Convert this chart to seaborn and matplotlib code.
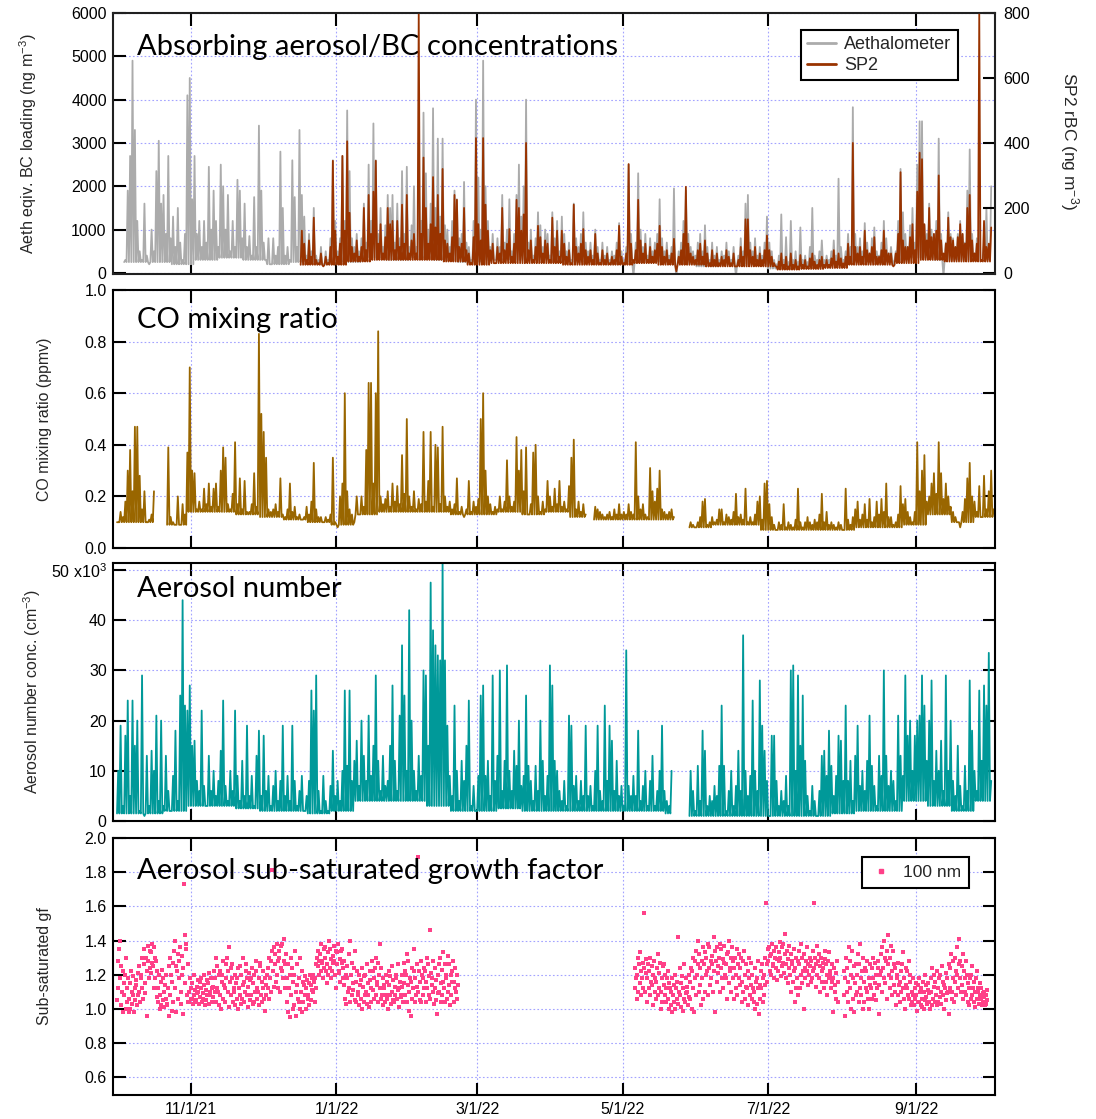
import numpy as np
import pandas as pd
import matplotlib
matplotlib.use("Agg")
import matplotlib.pyplot as plt
import matplotlib.dates as mdates
from matplotlib.lines import Line2D
import seaborn as sns

nan = np.nan
T0 = pd.Timestamp("2021-10-01")

# ---------------- data ----------------
# Each line series: one daily value (peak of the day) plus a lower envelope
# given per 10-day block.
BLOCK_DAYS = 10

# Aethalometer equivalent BC (ng m-3), from day 3
aeth_start_day = 3
aeth_bc = [
    300, 1900, 2700, 4900, 3300, 1200, 500, 300, 1600, 400,
    200, 1000, 500, 2350, 3050, 1600, 1800, 900, 2700, 800,
    1300, 600, 1500, 700, 300, 900, 4100, 4500, 1700, 2700,
    900, 1200, 600, 1200, 700, 2450, 1000, 1900, 1200, 600,
    2500, 2000, 1000, 1800, 500, 1200, 600, 2150, 1900, 800,
    1600, 600, 850, 400, 1750, 600, 3400, 1900, 700, 300,
    800, 200, 800, 400, 600, 2800, 1500, 400, 600, 300,
    2600, 1750, 600, 3300, 1800, 1300, 400, 900, 500, 1500,
    400, 300, 600, 200, 500, 300, 800, 2600, 1200, 500,
    800, 2700, 1200, 3750, 2350, 800, 600, 900, 500, 800,
    1600, 700, 2500, 1200, 3450, 2600, 900, 1500, 600, 1100,
    1800, 1500, 1800, 700, 1600, 800, 2350, 900, 2450, 600,
    1100, 2000, 600, 3000, 1200, 3700, 2300, 1000, 1600, 3800,
    1500, 3100, 1300, 3100, 1100, 1000, 600, 1200, 1900, 1700,
    800, 900, 2100, 700, 600, 300, 1200, 4000, 2200, 1000,
    4900, 2000, 1200, 600, 900, 300, 800, 600, 1800, 700,
    1000, 1700, 500, 900, 1800, 2500, 1300, 2000, 4000, 700,
    1000, 400, 800, 1400, 1100, 600, 1000, 900, 400, 1400,
    800, 1200, 500, 1300, 900, 500, 700, 300, 1600, 800,
    600, 900, 1400, 700, 500, 700, 400, 1000, 600, 300,
    700, 400, 600, 300, 500, 400, 700, 1150, 500, 300,
    600, 2500, 900, -80, 700, 2300, 1000, 600, 900, 400,
    800, 500, 700, 900, 1700, 800, 500, 700, 400, 600,
    1950, -80, 500, 700, 1200, 1900, 900, 600, 500, 400,
    700, 900, 500, 1100, 600, 300, 700, 400, 600, 300,
    500, 400, 700, 500, 300, 600, -80, 400, 800, 500,
    1600, 1800, 700, 500, 800, 400, 600, 400, 700, 1300,
    700, 500, 300, 200, 400, 1350, 300, 825, 250,
    1200, 300, 500, 250, 1050, 300, 400, 250, 600, 1500,
    400, 300, 500, 750, 300, 400, 300, 500, 750, 400,
    2175, 600, 300, 500, 900, 600, 3825, 900, 600, 800,
    500, 1150, 700, 450, 800, 1050, 500, 400, 700, 1200,
    800, 450, 600, 200, 500, 1200, 2400, 1400, 900, 600,
    1100, 1500, 700, 2500, 3500, 3500, 1100, 900, 1600, 1000,
    900, 1200, 3100, 900, -80, 700, 1400, 900, 800, 600,
    900, 1200, 900, 700, 1900, 2850, 900, 450, 800, 1200,
    300, 700, 1500, 600, 2000,
]
aeth_base = [250, 250, 200, 300, 350, 300, 200, 250, 200, 250,
             350, 300, 350, 300, 250, 300, 300, 300, 250, 250,
             200, 250, 250, 200, 150, 200, 200, 100, 150, 200,
             250, 250, 300, 350, 300, 300, 300]

# SP2 refractory BC (ng m-3), from day 77
sp2_start_day = 77
sp2_rbc = [
    130, 90, 40, 100, 50, 170, 40, 30, 60, 20,
    50, 30, 80, 345, 130, 50, 90, 360, 130, 405,
    185, 80, 60, 100, 50, 80, 200, 70, 240, 120,
    250, 345, 90, 150, 60, 110, 200, 150, 160, 70,
    160, 80, 210, 90, 240, 60, 100, 120, 60, 800,
    120, 355, 200, 90, 150, 295, 140, 240, 120, 320,
    100, 90, 60, 110, 240, 225, 80, 90, 200, 70,
    60, 30, 110, 415, 150, 100, 415, 210, 130, 70,
    90, 30, 80, 60, 200, 70, 90, 135, 50, 90,
    225, 200, 130, 180, 400, 70, 100, 40, 80, 145,
    110, 60, 100, 90, 40, 170, 80, 130, 50, 130,
    90, 50, 70, 30, 210, 80, 60, 90, 135, 70,
    50, 70, 40, 120, 60, 30, 70, 40, 60, 30,
    50, 40, 70, 145, 50, 30, 60, 335, 90, 40,
    70, 225, 100, 60, 90, 40, 80, 50, 70, 90,
    145, 80, 50, 70, 40, 60, 105, 5, 50, 70,
    120, 265, 90, 60, 50, 40, 70, 90, 50, 100,
    60, 30, 70, 40, 60, 30, 50, 40, 70, 50,
    30, 60, 20, 40, 80, 50, 165, 165, 70, 50,
    80, 40, 60, 40, 70, 115, 70, 50, 30, 20,
    35, 60, 25, 50, 20, 60, 25, 40, 20,
    55, 25, 40, 20, 45, 60, 35, 25, 40, 50,
    25, 40, 25, 45, 70, 35, 60, 45, 30, 50,
    90, 50, 400, 80, 60, 80, 50, 130, 70, 60,
    80, 110, 50, 50, 70, 130, 70, 60, 60, 20,
    60, 120, 310, 100, 80, 80, 110, 150, 70, 250,
    370, 350, 150, 100, 200, 110, 120, 130, 300, 100,
    60, 90, 170, 110, 100, 80, 110, 150, 120, 90,
    200, 240, 100, 60, 90, 800, 40, 160, 80, 90, 140,
]
sp2_base = [25, 25, 35, 40, 40, 40, 35, 25, 30, 30,
            30, 25, 25, 25, 30, 25, 25, 20, 20, 20,
            10, 12, 15, 25, 25, 30, 40, 35, 35]

# CO mixing ratio (ppmv), from day 0 (nan = no data)
co_start_day = 0
co_ppmv = [
    .10, .14, .12, .18, .30, .38, .22, .47, .47, .28,
    .15, .22, .10, .11, .13, .22, nan, nan, nan, nan,
    nan, .39, .12, .10, .09, .20, .09, .17, .13, .37,
    .70, .30, .29, .15, .18, .15, .23, .17, .25, .16,
    .23, .25, .16, .30, .39, .35, .17, .15, .21, .41,
    .17, .27, .15, .26, .14, .14, .17, .29, .16, .83,
    .52, .45, .35, .15, .14, .15, .17, .14, .27, .13,
    .12, .15, .25, .14, .16, .12, .13, .11, .12, .16,
    .13, .18, .33, .15, .12, .12, .10, .12, .11, .13,
    .35, .10, .08, .20, .25, .60, .22, .15, .13, .10,
    .20, .13, .20, .16, .38, .64, .64, .25, .60, .84,
    .20, .17, .19, .22, .16, .25, .18, .24, .17, .36,
    .21, .50, .20, .16, .22, .15, .19, .17, .45, .18,
    .26, .45, .16, .40, .39, .17, .47, .20, .16, .18,
    .15, .17, .27, .14, .16, .12, .15, .26, .14, .18,
    .16, .19, .50, .60, .30, .20, .17, .14, .16, .15,
    .20, .15, .18, .34, .20, .16, .18, .43, .30, .38,
    .22, .39, .13, .17, .37, .40, .20, .14, .18, .15,
    .26, .20, .16, .23, .17, .26, .16, .18, .15, .24,
    .35, .42, .15, .18, .14, .17, .13, nan, nan, nan,
    .16, .15, .14, .13, .12, .13, .14, .12, .15, .13,
    .17, .13, .14, .13, .17, .14, .13, .41, .20, .15,
    .17, .13, .12, .31, .22, .18, .23, .30, .15, .14,
    .13, .14, .15, .12, nan, nan, nan, nan, nan, nan,
    .10, .09, .08, .10, .12, .18, .19, .09, .10, .12,
    .10, .11, .15, .15, .10, .13, .12, .11, .14, .21,
    .12, .13, .11, .23, .10, .12, .10, .13, .18, .20,
    .11, .25, .26, .17, .12, .09, .07, .10, .09, .17,
    .08, .10, .09, .08, .11, .23, .10, .08, .10, .12,
    .10, .09, .11, .10, .13, .21, .10, .14, .09, .10,
    .09, .08, .10, .09, .07, .23, .11, .09, .12, .15,
    .18, .11, .13, .17, .11, .19, .10, .12, .18, .13,
    .19, .14, .25, .12, .12, .09, .10, .13, .24, .17,
    .19, .14, .12, .10, .14, .41, .22, .30, .36, .18,
    .20, .25, .29, .21, .41, .29, .19, .25, .20, .16,
    .14, .12, .10, .08, .14, .19, .27, .33, .20, .18,
    .14, .24, .12, .28, .15, .22, .30, .15,
]
co_base = [.10, .10, .09, .14, .14, .13, .12, .11, .10, .09,
           .13, .14, .14, .14, .13, .13, .14, .13, .14, .12,
           .11, .11, .11, .11, .08, .09, .09, .07, .07, .07,
           .07, .08, .08, .09, .13, .10, .12]

# Aerosol number concentration (x10^3 cm-3), from day 0
n_start_day = 0
n_conc_k = [
    10, 19, 3, 17, 24, 5, 24, 15, 20, 2,
    29, 1, 13, 3, 14, 10, 21, 4, 20, 3,
    13, 6, 2, 9, 18, 4, 25, 44, 23, 22,
    27, 15, 16, 8, 6, 22, 7, 3, 13, 6,
    10, 5, 8, 14, 24, 7, 4, 10, 6, 22,
    9, 4, 12, 5, 19, 5, 9, 3, 13, 18,
    5, 17, 6, 9, 3, 7, 10, 4, 8, 19,
    5, 9, 4, 19, 8, 3, 6, 9, 2, 5,
    8, 26, 22, 29, 6, 2, 9, 4, 2, 7,
    14, 5, 8, 4, 10, 26, 11, 26, 8, 12,
    16, 7, 20, 13, 8, 21, 9, 15, 29, 12,
    6, 13, 7, 8, 15, 27, 12, 6, 21, 35,
    25, 10, 42, 20, 10, 6, 13, 9, 30, 29,
    15, 47.5, 38, 35, 33, 32, 52, 32, 19, 9,
    5, 23, 10, 4, 12, 8, 15, 24, 3, 7,
    2, 9, 25, 27, 9, 12, 5, 29, 8, 13,
    30, 6, 12, 31, 10, 6, 14, 11, 20, 7,
    9, 25, 11, 8, 4, 11, 6, 20, 12, 5,
    9, 31, 27, 12, 10, 6, 4, 8, 3, 21,
    19, 7, 9, 4, 8, 5, 19, 5, 7, 3,
    10, 19, 6, 4, 23, 8, 19, 16, 6, 12,
    5, 7, 3, 34, 7, 5, 9, 5, 18, 4,
    7, 10, 3, 8, 13, 3, 6, 10, 19, 6,
    4, 3, 10, nan, nan, nan, nan, nan, nan, nan,
    10, 6, 2, 11, 4, 18, 14, 3, 5, 4,
    7, 5, 11, 23, 11, 2, 6, 10, 3, 7,
    14, 6, 37, 10, 5, 9, 24, 10, 6, 28,
    19, 14, 8, 1, 17, 17, 8, 3, 6, 4,
    9, 3, 30, 31, 10, 29, 15, 25, 12, 5,
    2, 7, 4, 1, 6, 13, 14, 9, 18, 11,
    5, 9, 17, 16, 8, 23, 8, 12, 4, 13,
    19, 7, 10, 6, 12, 21, 11, 7, 3, 13,
    9, 30, 13, 7, 10, 8, 4, 21, 13, 9,
    29, 17, 20, 10, 17, 20, 21, 29, 23, 12,
    20, 28, 8, 14, 10, 16, 6, 29, 10, 20,
    8, 5, 15, 7, 3, 11, 6, 28, 18, 10,
    6, 26, 12, 27, 23, 33.5, 8,
]
n_base = [1.5, 1.5, 2, 3, 3, 2.5, 2, 2, 1.5, 2,
          4, 4, 4, 3, 2, 2, 2.5, 2, 2, 2,
          2, 2, 2, 1.5, 1, 1, 1, 1, 1, 1,
          1.5, 2, 2, 4, 3, 2, 4]

# Sub-saturated growth factor of 100 nm particles (x100), four samples per day
gf_per_day = 4
gf_a_start_day = 0
gf_a = [
    105, 128, 112, 135,  140, 118, 102, 125,  110, 98, 122, 115,  108, 120, 130, 100,
    112, 104, 118, 98,   106, 115, 100, 122,  110, 103, 119, 108,  98, 112, 105, 117,
    114, 102, 121, 108,  110, 125, 104, 118,  120, 112, 130, 106,  126, 135, 115, 109,
    130, 96, 122, 137,   128, 118, 134, 124,  133, 121, 138, 127,  125, 136, 112, 130,
    118, 128, 107, 122,  112, 104, 120, 100,  108, 116, 102, 123,  105, 118, 110, 101,
    114, 106, 120, 103,  102, 112, 96, 125,   130, 108, 120, 99,   116, 127, 104, 134,
    140, 112, 125, 98,   122, 132, 106, 118,  128, 136, 110, 103,  120, 131, 97, 124,
    173, 143, 115, 135,  138, 108, 126, 104,  110, 104, 118, 106,  112, 106, 115, 103,
    108, 120, 104, 111,  105, 113, 109, 117,  110, 103, 116, 107,  112, 118, 104, 109,
    106, 114, 120, 102,  111, 105, 117, 108,  115, 103, 121, 110,  108, 118, 112, 104,
    113, 107, 122, 110,  118, 104, 130, 112,  125, 110, 120, 102,  108, 122, 100, 116,
    120, 128, 106, 114,  112, 104, 126, 118,  130, 110, 122, 101,  136, 116, 108, 124,
    118, 126, 104, 112,  110, 102, 120, 115,  106, 118, 100, 124,  112, 125, 108, 103,
    120, 106, 130, 114,  104, 116, 110, 122,  126, 108, 118, 101,  113, 121, 105, 117,
    108, 118, 124, 103,  115, 104, 120, 110,  122, 128, 106, 112,  110, 118, 102, 125,
    127, 108, 116, 104,  112, 122, 106, 118,  99, 114, 108, 120,   112, 124, 106, 130,
    118, 128, 110, 134,  181, 122, 136, 113,  126, 132, 116, 138,  120, 128, 112, 134,
    130, 110, 124, 137,  122, 138, 118, 128,  141, 126, 112, 132,  104, 118, 126, 98,
    112, 95, 120, 130,   108, 124, 100, 116,  120, 102, 134, 110,  96, 114, 126, 106,
    118, 104, 130, 100,  110, 122, 98, 116,   104, 114, 108, 119,  112, 100, 117, 106,
    108, 115, 102, 120,  114, 105, 111, 118,  110, 120, 116, 104,  118, 126, 112, 130,
    125, 134, 120, 128,  132, 122, 138, 127,  128, 118, 135, 124,  130, 136, 122, 115,
    126, 133, 120, 140,  135, 124, 129, 118,  122, 131, 127, 137,  128, 120, 134, 112,
    133, 126, 138, 122,  121, 129, 116, 134,  127, 135, 118, 124,  114, 128, 106, 120,
    103, 118, 125, 110,  132, 112, 104, 140,  120, 108, 127, 115,  111, 124, 105, 134,
    116, 104, 122, 108,  110, 120, 102, 114,  106, 117, 100, 124,  113, 104, 119, 108,
    120, 110, 126, 103,  108, 115, 101, 122,  117, 104, 112, 128,  111, 122, 106, 118,
    124, 108, 130, 114,  116, 127, 104, 120,  138, 112, 124, 106,  108, 118, 102, 114,
    112, 104, 120, 108,  106, 116, 100, 122,  114, 108, 119, 103,  110, 125, 105, 117,
    104, 113, 108, 120,  118, 106, 126, 111,  112, 101, 116, 108,  107, 120, 113, 104,
    115, 127, 108, 122,  120, 104, 132, 114,  128, 110, 99, 118,   96, 116, 124, 106,
    112, 122, 135, 104,  118, 108, 126, 113,  189, 110, 122, 105,  116, 128, 104, 120,
    108, 118, 112, 124,  122, 104, 116, 130,  112, 126, 108, 119,  146, 106, 121, 114,
    118, 110, 128, 103,  124, 112, 105, 117,  97, 120, 109, 126,   110, 130, 115, 104,
    123, 108, 133, 116,  112, 126, 104, 120,  118, 106, 131, 110,  126, 114, 102, 120,
    108, 122, 116, 128,  116, 104, 112, 124,  110, 120, 106, 114,
]
gf_b_start_day = 217
gf_b = [
    112, 124, 118, 106,  120, 130, 110, 126,  133, 115, 122, 108,  118, 127, 112, 124,
    156, 110, 121, 129,  104, 118, 126, 112,  122, 108, 130, 116,  114, 125, 102, 120,
    128, 110, 118, 106,  116, 124, 108, 132,  121, 112, 127, 100,  110, 118, 104, 125,
    126, 114, 120, 108,  112, 104, 118, 122,  106, 115, 100, 112,  102, 110, 118, 98,
    108, 104, 114, 120,  100, 112, 106, 116,  142, 103, 110, 124,  108, 115, 101, 119,
    112, 99, 106, 126,   104, 118, 109, 113,  110, 102, 120, 107,  116, 106, 124, 100,
    122, 112, 130, 98,   128, 118, 134, 108,  120, 140, 126, 110,  132, 114, 124, 102,
    118, 128, 136, 106,  126, 110, 133, 120,  130, 122, 108, 138,  124, 136, 114, 128,
    118, 131, 126, 110,  142, 122, 98, 134,   128, 136, 116, 125,  121, 130, 110, 138,
    135, 124, 118, 129,  112, 127, 137, 120,  126, 118, 132, 106,  133, 115, 140, 124,
    122, 130, 110, 136,  118, 128, 106, 124,  130, 112, 120, 135,  108, 126, 118, 132,
    124, 114, 130, 104,  116, 128, 110, 134,  120, 106, 126, 113,  112, 122, 102, 130,
    118, 108, 127, 114,  106, 120, 112, 104,  110, 124, 100, 116,  118, 103, 112, 128,
    97, 114, 106, 122,   112, 126, 104, 118,  120, 108, 130, 114,  162, 116, 126, 135,
    128, 136, 122, 131,  132, 120, 138, 126,  125, 134, 118, 130,  136, 124, 129, 117,
    122, 133, 128, 139,  130, 119, 136, 125,  127, 138, 121, 132,  144, 126, 118, 134,
    129, 115, 124, 137,  120, 132, 110, 126,  128, 116, 122, 135,  104, 124, 130, 112,
    118, 128, 108, 134,  126, 112, 138, 120,  115, 130, 122, 100,  132, 124, 118, 128,
    122, 136, 114, 126,  120, 130, 125, 116,  128, 118, 134, 122,  162, 124, 130, 113,
    126, 120, 137, 128,  118, 132, 125, 110,  130, 122, 116, 127,  124, 112, 129, 134,
    116, 126, 120, 108,  128, 118, 133, 122,  120, 112, 126, 116,  98, 118, 124, 110,
    114, 106, 121, 128,  104, 116, nan, nan,  nan, nan, nan, nan,  nan, nan, 122, 108,
    96, 118, 130, 110,   124, 104, 116, 136,  112, 128, 100, 120,  134, 106, 118, 125,
    98, 115, 126, 108,   120, 110, 132, 104,  126, 138, 112, 118,  108, 122, 100, 130,
    116, 104, 124, 112,  122, 110, 128, 106,  100, 118, 114, 126,  112, 124, 106, 130,
    118, 108, 127, 115,  105, 120, 112, 124,  128, 114, 97, 120,   132, 122, 136, 110,
    124, 140, 118, 130,  115, 128, 106, 134,  143, 126, 120, 112,  130, 118, 137, 108,
    122, 134, 114, 126,  110, 124, 102, 118,  120, 108, 127, 114,  104, 116, 122, 110,
    126, 112, 133, 106,  118, 100, 124, 114,  112, 122, 108, 128,  106, 116, 120, 102,
    110, 104, 118, 108,  102, 112, 106, 115,  108, 99, 114, 104,   104, 118, 110, 102,
    112, 106, 101, 116,  100, 110, 120, 105,  107, 114, 103, 111,  115, 104, 109, 100,
    110, 118, 102, 124,  106, 113, 120, 104,  116, 108, 102, 122,  104, 112, 118, 107,
    120, 103, 110, 125,  108, 116, 100, 114,  112, 105, 121, 109,  118, 110, 97, 126,
    124, 112, 132, 106,  110, 128, 118, 104,  130, 116, 122, 108,  120, 136, 112, 126,
    141, 118, 128, 110,  114, 125, 106, 132,  122, 110, 118, 128,  108, 120, 104, 115,
    112, 102, 118, 106,  120, 108, 125, 112,  104, 116, 110, 101,  118, 106, 122, 112,
    110, 103, 115, 108,  106, 112, 102, 109,  104, 110, 107, 102,  108, 103, 111, 105,
]

panel_titles = [
    "Absorbing aerosol/BC concentrations",
    "CO mixing ratio",
    "Aerosol number",
    "Aerosol sub-saturated growth factor",
]
bc_legend_labels = ["Aethalometer", "SP2"]
gf_legend_label = "100 nm"

# ---------------- styling ----------------
C_AETH = "#ababab"
C_SP2 = "#993300"
C_CO = "#996600"
C_N = "#009999"
C_GF = "#ff4088"
C_GRID = "#a3a3ff"

sns.set_theme(style="white")
plt.rcParams["font.family"] = ["Liberation Sans", "DejaVu Sans"]
plt.rcParams["mathtext.fontset"] = "custom"
plt.rcParams["mathtext.rm"] = "Liberation Sans"
plt.rcParams["mathtext.it"] = "Liberation Sans:italic"
plt.rcParams["axes.axisbelow"] = True
TITLE_FONT = ["Lato", "DejaVu Sans"]


def line_frame(start, values, base, name):
    """Daily value at mid-day, lower envelope at the start of each day."""
    v = np.asarray(values, dtype=float)
    days = start + np.arange(len(v))
    blk = np.minimum(np.arange(len(v)) // BLOCK_DAYS, len(base) - 1)
    b = np.asarray(base, dtype=float)[blk]
    b = np.where(np.isnan(v), nan, b)
    d = np.column_stack([days + 0.0, days + 0.5]).ravel()
    y = np.column_stack([b, v]).ravel()
    df = pd.DataFrame({"time": T0 + pd.to_timedelta(d, unit="D"), name: y})
    df["seg"] = np.isnan(y).cumsum()
    return df.dropna().reset_index(drop=True)


def gf_frame(start, values):
    v = np.asarray(values, dtype=float) / 100.0
    i = np.arange(len(v))
    t = T0 + pd.to_timedelta(start + (i + 0.5) / gf_per_day, unit="D")
    return pd.DataFrame({"time": t, "gf": v}).dropna()


aeth_df = line_frame(aeth_start_day, aeth_bc, aeth_base, "bc")
sp2_df = line_frame(sp2_start_day, sp2_rbc, sp2_base, "rbc")
co_df = line_frame(co_start_day, co_ppmv, co_base, "co")
n_df = line_frame(n_start_day, n_conc_k, n_base, "n")
gf_df = pd.concat([gf_frame(gf_a_start_day, gf_a), gf_frame(gf_b_start_day, gf_b)])

W, H = 1096, 1119
fig = plt.figure(figsize=(W / 100, H / 100), dpi=100)
X0, X1 = 113, 995


def make_axes(top, bottom):
    return fig.add_axes([X0 / W, 1 - bottom / H, (X1 - X0) / W, (bottom - top) / H])


ax1 = make_axes(13, 274)
ax2 = make_axes(290, 548)
ax3 = make_axes(563, 821)
ax4 = make_axes(838, 1095)

XMIN = T0 - pd.Timedelta(days=1.68)
XMAX = T0 + pd.Timedelta(days=368.1)
LW = 1.3

# Panel 1: Aethalometer and SP2 on twin axes
sns.lineplot(data=aeth_df, x="time", y="bc", units="seg", estimator=None,
             color=C_AETH, lw=LW, ax=ax1, legend=False)
ax1r = ax1.twinx()
sns.lineplot(data=sp2_df, x="time", y="rbc", units="seg", estimator=None,
             color=C_SP2, lw=LW, ax=ax1r, legend=False)

# Panel 2: CO
sns.lineplot(data=co_df, x="time", y="co", units="seg", estimator=None,
             color=C_CO, lw=LW, ax=ax2, legend=False)

# Panel 3: aerosol number
sns.lineplot(data=n_df, x="time", y="n", units="seg", estimator=None,
             color=C_N, lw=LW, ax=ax3, legend=False)

# Panel 4: growth factor
sns.scatterplot(data=gf_df, x="time", y="gf", marker="s", s=12, linewidth=0,
                color=C_GF, ax=ax4, legend=False)


def style_axes(ax, ylim, yticks, yticklabels=None, right=True, show_x=False):
    ax.set_xlim(XMIN, XMAX)
    ax.set_ylim(*ylim)
    ax.set_yticks(yticks)
    if yticklabels is not None:
        ax.set_yticklabels(yticklabels)
    ax.xaxis.set_major_locator(mdates.MonthLocator(bymonth=[1, 3, 5, 7, 9, 11]))
    ax.xaxis.set_major_formatter(mdates.DateFormatter("%-m/%-d/%y"))
    ax.tick_params(axis="both", direction="in", length=9, width=1.5, colors="black",
                   labelsize=11.5, top=True, bottom=True, left=True, right=right)
    ax.tick_params(axis="y", pad=4.5)
    ax.tick_params(axis="x", pad=5, labelbottom=show_x)
    ax.grid(True, color=C_GRID, linestyle=(0, (1.5, 2.0)), linewidth=0.8)
    for sp in ax.spines.values():
        sp.set_color("black")
        sp.set_linewidth(1.5)
    ax.set_xlabel("")


style_axes(ax1, (-25, 6000), np.arange(0, 6001, 1000), right=False)
style_axes(ax2, (0, 1.0), np.arange(0, 1.01, 0.2),
           ["0.0", "0.2", "0.4", "0.6", "0.8", "1.0"])
style_axes(ax3, (0, 51.4), [0, 10, 20, 30, 40, 50],
           ["0", "10", "20", "30", "40", r"50 x10$^{3}$"])
style_axes(ax4, (0.496, 2.0), np.arange(0.6, 2.01, 0.2),
           ["0.6", "0.8", "1.0", "1.2", "1.4", "1.6", "1.8", "2.0"], show_x=True)

ax1r.set_ylim(-25 / 7.5, 800)
ax1r.set_yticks([0, 200, 400, 600, 800])
ax1r.tick_params(axis="y", direction="in", length=9, width=1.5, colors="black",
                 labelsize=11.5, pad=6)
ax1r.grid(False)
ax1r.set_xlim(XMIN, XMAX)
ax1r.set_xlabel("")

# axis labels
ax1.set_ylabel(r"Aeth eqiv. BC loading (ng m$^{-3}$)", fontsize=11.6)
ax1.yaxis.set_label_coords((39 - X0) / (X1 - X0), 0.5)
ax2.set_ylabel("CO mixing ratio (ppmv)", fontsize=11.4)
ax2.yaxis.set_label_coords((52 - X0) / (X1 - X0), 0.5)
ax3.set_ylabel(r"Aerosol number conc. (cm$^{-3}$)", fontsize=11.4)
ax3.yaxis.set_label_coords((43 - X0) / (X1 - X0), 0.5)
ax4.set_ylabel("Sub-saturated gf", fontsize=11.4)
ax4.yaxis.set_label_coords((52 - X0) / (X1 - X0), 0.5)
ax1r.set_ylabel(r"SP2 rBC (ng m$^{-3}$)", fontsize=12.5, rotation=270,
                va="bottom", ha="center", rotation_mode="anchor")
ax1r.yaxis.set_label_coords((1058 - X0) / (X1 - X0), 0.51)

# panel titles
title_pos = [(ax1, 0.839), (ax2, 0.853), (ax3, 0.869), (ax4, 0.839)]
for (ax, yb), txt in zip(title_pos, panel_titles):
    ax.text((137 - X0) / (X1 - X0), yb, txt, transform=ax.transAxes,
            fontsize=21, family=TITLE_FONT, color="black", va="baseline",
            ha="left", zorder=10)

# legends
bc_handles = [Line2D([], [], color=C_AETH, lw=2), Line2D([], [], color=C_SP2, lw=2)]
leg1 = ax1r.legend(bc_handles, bc_legend_labels, loc="upper left",
                   bbox_to_anchor=((801 - X0) / (X1 - X0), (274 - 30) / 261),
                   frameon=True, fancybox=False, framealpha=1, edgecolor="black",
                   fontsize=13, borderpad=0.35, handlelength=1.6,
                   handletextpad=0.45, labelspacing=0.2, borderaxespad=0)
leg1.get_frame().set_linewidth(1.5)

gf_handle = [Line2D([], [], marker="s", linestyle="none", color=C_GF, markersize=3.4)]
leg4 = ax4.legend(gf_handle, [gf_legend_label], loc="upper left",
                  bbox_to_anchor=((862 - X0) / (X1 - X0), (1095 - 857) / 257),
                  frameon=True, fancybox=False, framealpha=1, edgecolor="black",
                  fontsize=12.5, borderpad=0.45, handlelength=1.3,
                  handletextpad=0.6, borderaxespad=0)
leg4.get_frame().set_linewidth(1.5)

fig.savefig("out.png", dpi=100)
